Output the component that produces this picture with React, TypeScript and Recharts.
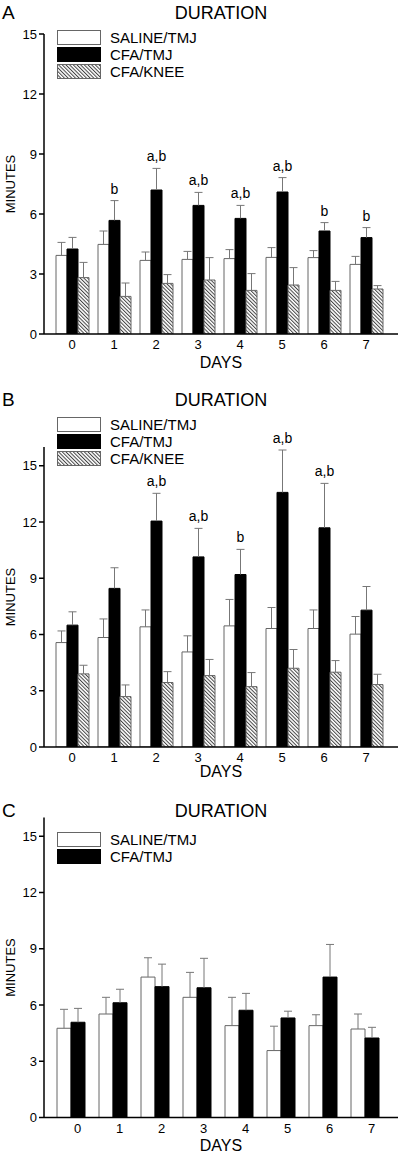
import React from "react";
import { BarChart, Bar, XAxis, YAxis, LabelList } from "recharts";

const days = ["0", "1", "2", "3", "4", "5", "6", "7"];
const yTicks = [0, 3, 6, 9, 12, 15];

// panel A
const salineA = [3.93, 4.48, 3.68, 3.73, 3.77, 3.83, 3.82, 3.48];
const salineSemA = [0.65, 0.67, 0.42, 0.4, 0.45, 0.49, 0.35, 0.4];
const cfaA = [4.25, 5.68, 7.2, 6.43, 5.78, 7.1, 5.15, 4.82];
const cfaSemA = [0.58, 0.99, 1.08, 0.65, 0.65, 0.72, 0.42, 0.5];
const kneeA = [2.82, 1.88, 2.53, 2.7, 2.18, 2.45, 2.18, 2.25];
const kneeSemA = [0.76, 0.67, 0.44, 1.12, 0.84, 0.87, 0.45, 0.17];
const sigA = ["", "b", "a,b", "a,b", "a,b", "a,b", "b", "b"];

// panel B
const salineB = [5.57, 5.84, 6.41, 5.07, 6.46, 6.32, 6.32, 6.02];
const salineSemB = [0.62, 0.99, 0.9, 0.86, 1.41, 1.12, 0.99, 0.94];
const cfaB = [6.5, 8.46, 12.05, 10.14, 9.2, 13.58, 11.69, 7.3];
const cfaSemB = [0.71, 1.1, 1.48, 1.52, 1.34, 2.26, 2.37, 1.26];
const kneeB = [3.9, 2.69, 3.44, 3.81, 3.22, 4.2, 3.99, 3.33];
const kneeSemB = [0.46, 0.62, 0.58, 0.86, 0.75, 1.0, 0.62, 0.55];
const sigB = ["", "", "a,b", "a,b", "b", "a,b", "a,b", ""];

// panel C
const salineC = [4.76, 5.52, 7.49, 6.41, 4.9, 3.57, 4.9, 4.72];
const salineSemC = [1.01, 0.89, 1.03, 1.33, 1.51, 1.3, 0.58, 0.8];
const cfaC = [5.08, 6.12, 6.98, 6.92, 5.72, 5.31, 7.49, 4.24];
const cfaSemC = [0.74, 0.72, 1.2, 1.57, 0.9, 0.36, 1.74, 0.57];

const NAMES: Record<string, string> = {
  saline: "SALINE/TMJ",
  cfa: "CFA/TMJ",
  knee: "CFA/KNEE",
};

const rowsA = days.map((d, i) => ({
  day: d,
  saline: salineA[i], salineErr: salineSemA[i],
  cfa: cfaA[i], cfaErr: cfaSemA[i],
  knee: kneeA[i], kneeErr: kneeSemA[i],
  sig: sigA[i],
}));
const rowsB = days.map((d, i) => ({
  day: d,
  saline: salineB[i], salineErr: salineSemB[i],
  cfa: cfaB[i], cfaErr: cfaSemB[i],
  knee: kneeB[i], kneeErr: kneeSemB[i],
  sig: sigB[i],
}));
const rowsC = days.map((d, i) => ({
  day: d,
  saline: salineC[i], salineErr: salineSemC[i],
  cfa: cfaC[i], cfaErr: cfaSemC[i],
  sig: "",
}));

const FONT = "'Liberation Sans', Arial, Helvetica, sans-serif";
const ERR = "#777";

function fillFor(key: string, id: string) {
  if (key === "cfa") return "#000";
  if (key === "knee") return `url(#hatch-${id})`;
  return "#fff";
}
function strokeFor(key: string) {
  return key === "cfa" ? "#000" : "#666";
}

function Hatch({ id }: { id: string }) {
  return (
    <pattern id={id} width={2.6} height={2.6} patternUnits="userSpaceOnUse" patternTransform="rotate(-45)">
      <rect width={2.6} height={2.6} fill="#fff" />
      <line x1={0.5} y1={0} x2={0.5} y2={2.6} stroke="#444" strokeWidth={1} />
    </pattern>
  );
}

// error whisker drawn on top of the stacked mean bar (one-sided, upward)
const ErrShape = (props: any) => {
  const { x, y, width, height } = props;
  if (x == null || y == null || !height) return null;
  const cx = x + width / 2;
  return (
    <g>
      <line x1={cx} x2={cx} y1={y + height} y2={y} stroke={ERR} strokeWidth={1} />
      <line x1={cx - 4} x2={cx + 4} y1={y} y2={y} stroke={ERR} strokeWidth={1} />
    </g>
  );
};

const SigLabel = (props: any) => {
  const { x, y, width, value } = props;
  if (!value) return null;
  return (
    <text x={x + width / 2} y={y - 7} textAnchor="middle" fontSize={14} fill="#000" fontFamily={FONT}>
      {value}
    </text>
  );
};

function Swatch({ k, id }: { k: string; id: string }) {
  return (
    <svg width={44} height={15} style={{ display: "block" }}>
      <defs>
        <Hatch id={`lhatch-${id}`} />
      </defs>
      <rect
        x={0.5}
        y={0.5}
        width={43}
        height={14}
        fill={k === "knee" ? `url(#lhatch-${id})` : fillFor(k, id)}
        stroke={strokeFor(k)}
      />
    </svg>
  );
}

type PanelProps = {
  id: string;
  letter: string;
  top: number;
  height: number;
  marginTop: number;
  xAxisHeight: number;
  daysOffset: number;
  domain: [number, number];
  rows: any[];
  series: string[];
  gap: number;
  padLeft: number;
  padRight: number;
  tickDx: number;
  titleY: number;
  legendTop: number;
};

function Panel(p: PanelProps) {
  return (
    <div style={{ position: "absolute", left: 0, top: p.top, width: 400, height: p.height }}>
      <div style={{ position: "absolute", left: 2, top: p.titleY - 11, fontSize: 19, lineHeight: "22px" }}>{p.letter}</div>
      <div
        style={{
          position: "absolute",
          left: 44,
          width: 354,
          top: p.titleY - 11,
          textAlign: "center",
          fontSize: 18,
          lineHeight: "22px",
        }}
      >
        DURATION
      </div>
      <BarChart
        width={400}
        height={p.height}
        data={p.rows}
        margin={{ top: p.marginTop, right: 2, left: 0, bottom: 0 }}
        barCategoryGap={p.gap}
        barGap={0}
      >
        <defs>
          <Hatch id={`hatch-${p.id}`} />
        </defs>
        <XAxis
          dataKey="day"
          height={p.xAxisHeight}
          axisLine={{ stroke: "#000", strokeWidth: 1.5 }}
          tickLine={false}
          tickSize={0}
          tickMargin={6}
          interval={0}
          padding={{ left: p.padLeft, right: p.padRight }}
          tick={{ fill: "#000", fontSize: 13, dx: p.tickDx }}
          label={{ value: "DAYS", position: "insideBottom", offset: p.daysOffset, fontSize: 16, fill: "#000" }}
        />
        <YAxis
          width={44}
          domain={p.domain}
          ticks={yTicks}
          interval={0}
          allowDataOverflow
          axisLine={{ stroke: "#000", strokeWidth: 1.5 }}
          tickLine={{ stroke: "#000", strokeWidth: 1.5 }}
          tickSize={5}
          tick={{ fill: "#000", fontSize: 13 }}
          label={{
            value: "MINUTES",
            angle: -90,
            position: "insideLeft",
            offset: 10,
            fontSize: 13,
            fill: "#000",
            style: { textAnchor: "middle" },
          }}
        />
        {p.series.map((k) => (
          <Bar
            key={k}
            dataKey={k}
            stackId={k}
            fill={fillFor(k, p.id)}
            stroke={strokeFor(k)}
            strokeWidth={1}
            isAnimationActive={false}
          />
        ))}
        {p.series.map((k) => (
          <Bar key={k + "Err"} dataKey={k + "Err"} stackId={k} shape={ErrShape} isAnimationActive={false}>
            {k === "cfa" && <LabelList dataKey="sig" content={SigLabel} />}
          </Bar>
        ))}
      </BarChart>
      <div style={{ position: "absolute", left: 57, top: p.legendTop }}>
        {p.series.map((k) => (
          <div key={k} style={{ display: "flex", alignItems: "center", height: 17 }}>
            <Swatch k={k} id={p.id} />
            <span style={{ marginLeft: 9, fontSize: 15, lineHeight: "17px" }}>{NAMES[k]}</span>
          </div>
        ))}
      </div>
    </div>
  );
}

export default function App() {
  return (
    <div
      style={{
        position: "absolute",
        left: 0,
        top: 0,
        width: 400,
        height: 1155,
        overflow: "hidden",
        background: "#fff",
        fontFamily: FONT,
        color: "#000",
      }}
    >
      <Panel
        id="a"
        letter="A"
        top={0}
        height={380}
        marginTop={34}
        xAxisHeight={46}
        daysOffset={11.6}
        domain={[0, 15]}
        rows={rowsA}
        series={["saline", "cfa", "knee"]}
        gap={5}
        padLeft={7}
        padRight={11}
        tickDx={0}
        titleY={13}
        legendTop={29}
      />
      <Panel
        id="b"
        letter="B"
        top={380}
        height={400}
        marginTop={67}
        xAxisHeight={33}
        daysOffset={2.6}
        domain={[0, 16]}
        rows={rowsB}
        series={["saline", "cfa", "knee"]}
        gap={5}
        padLeft={7}
        padRight={11}
        tickDx={0}
        titleY={20}
        legendTop={36}
      />
      <Panel
        id="c"
        letter="C"
        top={780}
        height={375}
        marginTop={37.5}
        xAxisHeight={37.5}
        daysOffset={4.3}
        domain={[0, 16]}
        rows={rowsC}
        series={["saline", "cfa"]}
        gap={7}
        padLeft={6}
        padRight={12}
        tickDx={6.5}
        titleY={30.7}
        legendTop={50.5}
      />
    </div>
  );
}
